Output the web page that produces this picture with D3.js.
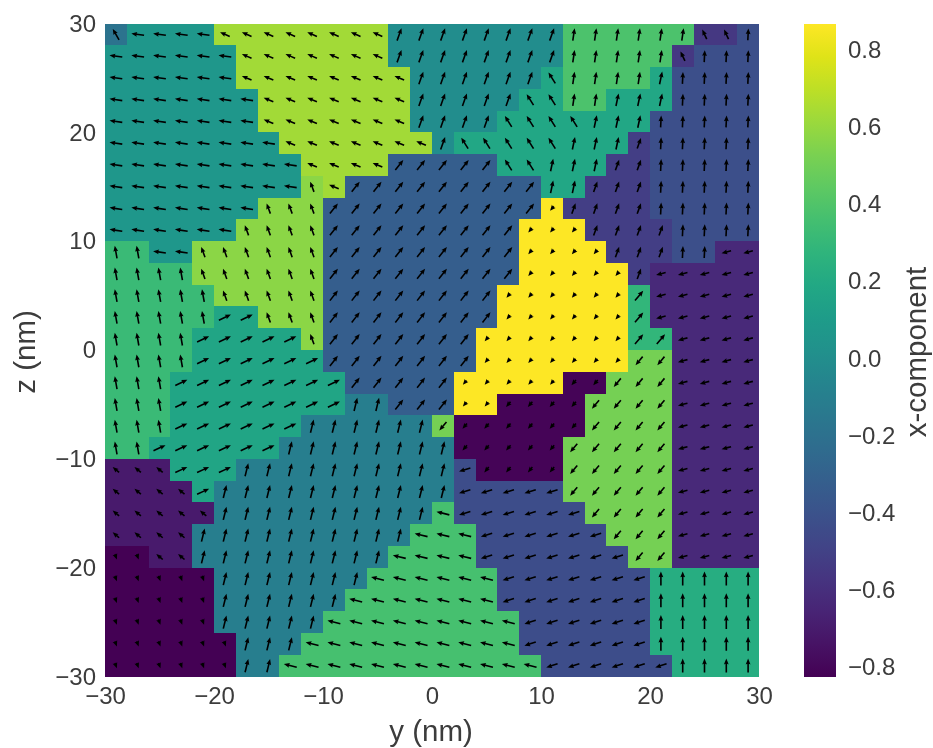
<!DOCTYPE html>
<html>

<head>
  <title>Magnetisation x-component</title>
  <meta charset="utf-8">
  <script src="https://d3js.org/d3.v7.min.js"></script>
  <style>
    html, body { margin: 0; background: #fff; }
    svg { display: block; filter: blur(0.75px); }
    text { font-family: "Liberation Sans", Arial, sans-serif; fill: #3c3c3c; }
    .tick text { font-size: 24px; fill: #3c3c3c; }
    .lab { font-size: 29.5px; }
  </style>
</head>

<body>
  <svg width="933" height="748"></svg>
  <script>
    // region letter of every 2 nm cell, top row is z = 30
    var gridRows = [
      "aTTTTYYYYYYYYttttttttEEEEEEUUI",
      "TTTTTTYYYYYYYttttttttEEEEEUIII",
      "TTTTTTYYYYYYYYttttttHEEEEJIIII",
      "TTTTTTTYYYYYYYtttttHHEEJJJIIII",
      "TTTTTTTYYYYYYYttttHHHHJJJIIIII",
      "TTTTTTTTYYYYYYYtHHHHHJJJVIIIII",
      "TTTTTTTTTYYYYBBBBBHHJJJVVIIIII",
      "TTTTTTTTTGYBBBBBBBBBJJVVVIIIII",
      "TTTTTTTGGGBBBBBBBBBBZVVVVIIIII",
      "TTTTTTGGGGBBBBBBBBBZZZVVVVIIII",
      "LLTTGGGGGGBBBBBBBBBZZZZVVVIIWW",
      "LLLLGGGGGGBBBBBBBBBZZZZZVWWWWW",
      "LLLLLGGGGGBBBBBBBBZZZZZZKWWWWW",
      "LLLLLMMGGGBBBBBBBBZZZZZZKWWWWW",
      "LLLLMMMMMGBBBBBBBZZZZZZZKKWWWW",
      "LLLLMMMMMMBBBBBBBZZZZZZZCCWWWW",
      "LLLMMMMMMMMBBBBBZZZZZXXCCCWWWW",
      "LLLMMMMMMMMSSBBBZZXXXXCCCCWWWW",
      "LLLMMMMMMSSSSSSCXXXXXXCCCCWWWW",
      "LLMMMMMMSSSSSSSSXXXXXCCCCCWWWW",
      "PPPMMMSSSSSSSSSSAXXXXCCCCCWWWW",
      "PPPPMSSSSSSSSSSSAAAAACCCCCWWWW",
      "PPPPPSSSSSSSSSSNAAAAAACCCCWWWW",
      "PPPPSSSSSSSSSSNNNAAAAAACCCWWWW",
      "DDPPSSSSSSSSSNNNNAAAAAAACCWWWW",
      "DDDDDSSSSSSSNNNNNNAAAAAAAQQQQQ",
      "DDDDDSSSSSSNNNNNNNAAAAAAAQQQQQ",
      "DDDDDSSSSSNNNNNNNNNAAAAAAQQQQQ",
      "DDDDDDSSSNNNNNNNNNNAAAAAAQQQQQ",
      "DDDDDDSSNNNNNNNNNNNNAAAAAAQQQQ"
    ];

    var regionIds = ["a", "T", "Y", "t", "E", "U", "I", "H", "J", "V", "B", "G", "Z", "L", "W", "K", "M", "C", "X", "S", "A", "P", "N", "D", "Q"];
    var regionMx = [-0.18, 0.07, 0.63, 0.0, 0.39, -0.55, -0.42, 0.18, 0.18, -0.52, -0.33, 0.57, 0.867, 0.32, -0.63, 0.29, 0.17, 0.51, -0.81, -0.11, -0.43, -0.71, 0.37, -0.826, 0.23];
    var regionMy = [-0.45, -0.91, -0.69, 0.32, 0.13, -0.32, 0.04, -0.49, 0.19, 0.27, 0.57, -0.27, -0.26, -0.16, -0.68, 0.59, 0.86, -0.51, -0.32, 0.23, -0.81, -0.46, -0.92, 0.14, 0.0];
    var regionMz = [0.78, 0.13, 0.29, 0.89, 0.89, 0.68, 0.85, 0.78, 0.90, 0.75, 0.72, 0.73, -0.31, 0.91, -0.18, 0.70, 0.40, -0.61, -0.38, 0.94, -0.26, 0.39, 0.23, -0.38, 1.0];

    var axisTicks = [-30, -20, -10, 0, 10, 20, 30];
    var colorTicks = [-0.8, -0.6, -0.4, -0.2, 0.0, 0.2, 0.4, 0.6, 0.8];
    var colorRange = [-0.826, 0.867];

    var svg = d3.select("svg");
    var x = d3.scaleLinear().domain([-30, 30]).range([105, 759]);
    var y = d3.scaleLinear().domain([-30, 30]).range([676.5, 23.5]);
    var color = d3.scaleSequential(d3.interpolateViridis).domain(colorRange);
    var arrowLen = d3.scaleLinear().domain([0, 1]).range([0, 14]);
    var step = 2;

    // one record per cell
    var cells = [];
    gridRows.forEach(function(row, r) {
      row.split("").forEach(function(id, c) {
        var k = regionIds.indexOf(id);
        cells.push({
          y0: -30 + c * step,
          z0: 30 - (r + 1) * step,
          mx: regionMx[k],
          my: regionMy[k],
          mz: regionMz[k]
        });
      });
    });

    svg.append("g")
      .selectAll("rect")
      .data(cells)
      .enter()
      .append("rect")
      .attr("shape-rendering", "crispEdges")
      .attr("x", function(d) { return x(d.y0); })
      .attr("y", function(d) { return y(d.z0 + step); })
      .attr("width", function(d) { return x(d.y0 + step) - x(d.y0); })
      .attr("height", function(d) { return y(d.z0) - y(d.z0 + step); })
      .attr("fill", function(d) { return color(d.mx); });

    // quiver style arrow, centred on the cell, pointing along +x before rotation
    function arrowPath(d) {
      var len = arrowLen(Math.hypot(d.my, d.mz));
      var w = 1.6;
      var headLen = Math.min(3.6 * w, len);
      var headBack = headLen * 0.9;
      var a = len / 2;
      return "M" + (-a) + "," + (-w / 2) +
        "L" + (a - headBack) + "," + (-w / 2) +
        "L" + (a - headLen) + "," + (-1.5 * w) +
        "L" + a + ",0" +
        "L" + (a - headLen) + "," + (1.5 * w) +
        "L" + (a - headBack) + "," + (w / 2) +
        "L" + (-a) + "," + (w / 2) + "Z";
    }

    svg.append("g")
      .selectAll("path")
      .data(cells)
      .enter()
      .append("path")
      .attr("d", arrowPath)
      .attr("fill", "#000")
      .attr("transform", function(d) {
        var deg = -Math.atan2(d.mz, d.my) * 180 / Math.PI;
        return "translate(" + x(d.y0 + step / 2) + "," + y(d.z0 + step / 2) + ")rotate(" + deg + ")";
      });

    var xAxis = d3.axisBottom(x).tickValues(axisTicks).tickSize(0).tickPadding(10);
    var yAxis = d3.axisLeft(y).tickValues(axisTicks).tickSize(0).tickPadding(9);

    svg.append("g").attr("transform", "translate(0,677)").call(xAxis).call(function(g) { g.select(".domain").remove(); });
    svg.append("g").attr("transform", "translate(105,0)").call(yAxis).call(function(g) { g.select(".domain").remove(); });

    svg.append("text").attr("class", "lab")
      .attr("x", 431).attr("y", 741)
      .attr("text-anchor", "middle")
      .text("y (nm)");

    svg.append("text").attr("class", "lab")
      .attr("transform", "translate(35,352)rotate(-90)")
      .attr("text-anchor", "middle")
      .text("z (nm)");

    // colorbar
    var barY = d3.scaleLinear().domain(colorRange).range([677, 24]);
    var defs = svg.append("defs");
    var grad = defs.append("linearGradient").attr("id", "bar")
      .attr("x1", 0).attr("x2", 0).attr("y1", 1).attr("y2", 0);
    grad.selectAll("stop")
      .data(d3.range(0, 1.0001, 0.05))
      .enter()
      .append("stop")
      .attr("offset", function(t) { return t; })
      .attr("stop-color", function(t) { return d3.interpolateViridis(t); });

    svg.append("rect")
      .attr("x", 804).attr("y", 24)
      .attr("width", 32).attr("height", 653)
      .attr("fill", "url(#bar)");

    var barAxis = d3.axisRight(barY).tickValues(colorTicks).tickFormat(d3.format(".1f")).tickSize(0).tickPadding(12);
    svg.append("g").attr("transform", "translate(836,0)").call(barAxis).call(function(g) { g.select(".domain").remove(); });

    svg.append("text").attr("class", "lab")
      .attr("transform", "translate(926,352)rotate(-90)")
      .attr("text-anchor", "middle")
      .text("x-component");
  </script>
</body>

</html>
